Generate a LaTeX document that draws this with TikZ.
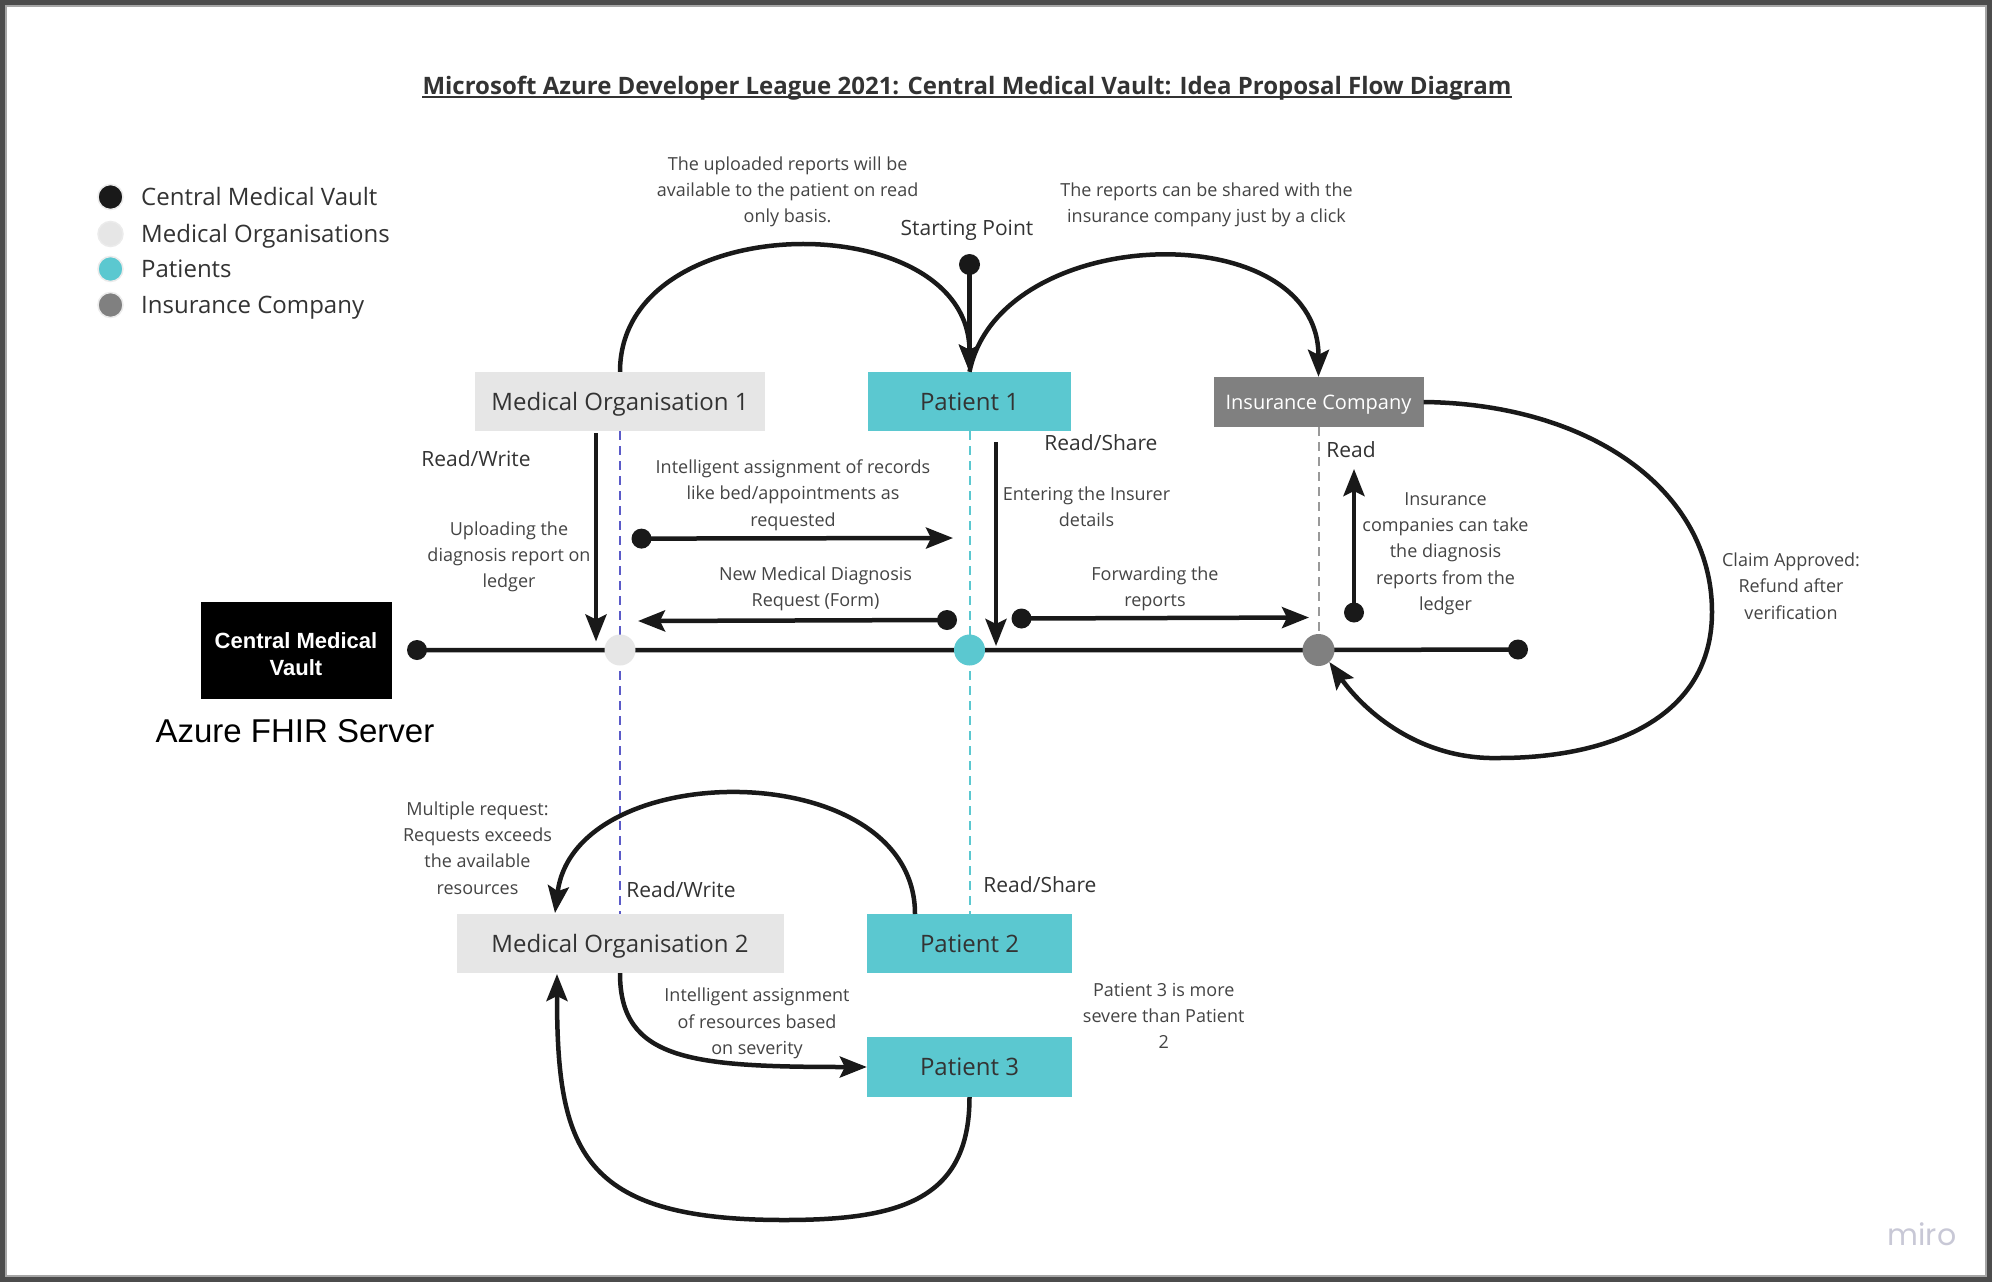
\documentclass[tikz,border=0pt]{standalone}
\usepackage{fontspec}
\setmainfont{Open Sans}
\newfontfamily\arialf{Liberation Sans}
\newfontfamily\mirof{Poppins}
\usetikzlibrary{arrows.meta,calc}
\definecolor{teal1}{HTML}{5BC8D0}
\definecolor{mogray}{HTML}{E6E6E6}
\definecolor{icgray}{HTML}{808080}
\definecolor{txt}{HTML}{333333}
\definecolor{anncol}{HTML}{444444}
\definecolor{dashblue}{HTML}{5B5BC8}
\definecolor{mirocol}{HTML}{C8C8D6}
\tikzset{
  boxn/.style={minimum height=59, inner sep=0, text=txt, text height=17, text depth=0, font=\fontsize{24}{28}\selectfont},
  lbl/.style={inner sep=0, text=txt, font=\fontsize{21}{26}\selectfont},
  ann/.style={inner sep=0, text=anncol, align=center, font=\fontsize{18}{26.3}\selectfont},
  legt/.style={inner sep=0, anchor=west, text=txt, text height=17, text depth=0, font=\fontsize{24}{28}\selectfont},
  legdot/.style={circle, minimum size=25, inner sep=0, draw=black!8, line width=1.5},
  enddot/.style={circle, fill=black!90, minimum size=20, inner sep=0},
  junc/.style={circle, minimum size=31, inner sep=0},
  arr/.style={line width=4.5, draw=black!90, -{Stealth[length=27, width=21, inset=5]}},
  curv/.style={line width=4.5, draw=black!90, -{Stealth[length=27, width=21, inset=5]}},
  dline/.style={line width=2, dash pattern=on 9 off 6},
}
\begin{document}
\begin{tikzpicture}[x=1pt,y=-1pt]
\useasboundingbox (0,0) rectangle (1992,1282);
\fill[white] (0,0) rectangle (1992,1282);
% frame
\draw[line width=5, color=black!70] (2.5,2.5) rectangle (1989.5,1279.5);
\draw[line width=2, color=black!35] (6,6) rectangle (1986,1276);

% title
\node[inner sep=0, anchor=base, text=txt, font=\fontsize{24}{28}\selectfont\bfseries] (title) at (967,94) {Microsoft Azure Developer League 2021: Central Medical Vault: Idea Proposal Flow Diagram};
\draw[line width=2, color=txt] ([yshift=-3]title.base west) -- ([yshift=-3]title.base east);

% legend
\node[legdot, fill=black!90] (lg1) at (110.5,197) {};
\node[legdot, fill=mogray] (lg2) at (110.5,234) {};
\node[legdot, fill=teal1] (lg3) at (110.5,269) {};
\node[legdot, fill=icgray] (lg4) at (110.5,305) {};
\node[legt] (lt1) at (141,197) {Central Medical Vault};
\node[legt] (lt2) at (141,234) {Medical Organisations};
\node[legt] (lt3) at (141,269) {Patients};
\node[legt] (lt4) at (141,305) {Insurance Company};

% boxes
\node[boxn, fill=mogray, minimum width=290] (mo1) at (620,401.5) {Medical Organisation 1};
\node[boxn, fill=teal1, minimum width=203] (p1) at (969.5,401.5) {Patient 1};
\node[boxn, fill=icgray, minimum width=210, minimum height=50, text=white, text height=14.3, font=\fontsize{20}{24}\selectfont] (ic) at (1318.5,402) {Insurance Company};
\node[boxn, fill=mogray, minimum width=327] (mo2) at (620,943.5) {Medical Organisation 2};
\node[boxn, fill=teal1, minimum width=205] (p2) at (969.5,943.5) {Patient 2};
\node[boxn, fill=teal1, minimum width=205, minimum height=60] (p3) at (969.5,1067) {Patient 3};
\node[fill=black, minimum width=191, minimum height=97, inner sep=0] (cmv) at (296,650.5) {};
\node[inner sep=0, text=white, align=center, font=\arialf\bfseries\fontsize{22}{27}\selectfont] (cmvt) at (296,654.5) {Central Medical\\Vault};
\node[inner sep=0, text=black, font=\arialf\fontsize{33}{38}\selectfont] (fhir) at (295,731) {Azure FHIR Server};

% ledger nodes
\node[enddot] (lend) at (417,650) {};
\node[enddot] (rend) at (1518,649.5) {};
\coordinate (j1c) at (620,650);
\coordinate (j2c) at (969.5,650);
\coordinate (j3c) at (1318.5,650);

% dashed verticals
\draw[dline, color=dashblue] (mo1.south) -- (mo2.north);
\draw[dline, color=teal1] (p1.south) -- (p2.north);
\draw[dline, color=black!40] (ic.south) -- (j3c);

% ledger line
\draw[line width=4.5, color=black!90] (lend.center) -- (j1c) -- (j2c) -- (j3c) -- (rend.center);

% junction circles
\node[junc, fill=mogray] (j1) at (j1c) {};
\node[junc, fill=teal1] (j2) at (j2c) {};
\node[junc, fill=icgray, minimum size=32] (j3) at (j3c) {};

% starting point
\node[enddot, minimum size=21] (dstart) at (969.5,264.5) {};
\node[lbl] (lstart) at (967,230) {Starting Point};
\draw[arr] (dstart.center) -- (p1.north);

% top curves
\draw[curv] (mo1.north) .. controls (620,205) and (969.5,205) .. (p1.north);
\draw[curv] (p1.north) .. controls (1000,222) and (1318.5,214) .. (ic.north);
\draw[curv] (ic.east) .. controls (1590,404) and (1712,490) .. (1712,612)
   .. controls (1712,718) and (1610,758) .. (1499,758)
   .. controls (1420,760) and (1365,712) .. (j3.-48);

% vertical arrows
\coordinate (up1s) at (596,433);
\coordinate (up1e) at (596,641.5);
\draw[arr] (up1s) -- (up1e);
\coordinate (rs1s) at (996,442);
\coordinate (rs1e) at (996,646);
\draw[arr] (rs1s) -- (rs1e);
\node[enddot] (dread) at (1354,612.5) {};
\coordinate (treadc) at (1354,469);
\draw[arr] (dread.center) -- (treadc);

% horizontal arrows
\node[enddot] (dint) at (641.5,538.6) {};
\coordinate (tint) at (953,538);
\draw[arr] (dint.center) -- (tint);
\node[enddot] (dnew) at (947,620) {};
\coordinate (tnew) at (638,621);
\draw[arr] (dnew.center) -- (tnew);
\node[enddot] (dfwd) at (1021.5,618.5) {};
\coordinate (tfwd) at (1309,617.5);
\draw[arr] (dfwd.center) -- (tfwd);

% lower curves
\coordinate (p2top) at (915,914);
\coordinate (mo2top) at (555,913);
\draw[curv] (p2top) .. controls (915,755) and (575,755) .. (mo2top);
\draw[curv] (mo2.south) .. controls (620,1060) and (690,1067) .. (p3.west);
\coordinate (mo2bot) at (557,974);
\draw[curv] (p3.south) .. controls (969.5,1200) and (900,1220) .. (784,1220)
   .. controls (580,1220) and (557,1150) .. (mo2bot);

% labels
\node[lbl] (lrw1) at (476,459) {Read/Write};
\node[lbl] (lrs1) at (1101,443) {Read/Share};
\node[lbl] (lread) at (1351,450) {Read};
\node[lbl] (lrw2) at (681,890) {Read/Write};
\node[lbl] (lrs2) at (1040,885) {Read/Share};

% annotations
\node[ann] (aupl) at (787.6,192) {The uploaded reports will be\\available to the patient on read\\only basis.};
\node[ann] (ashare) at (1206.5,204.5) {The reports can be shared with the\\insurance company just by a click};
\node[ann] (aint) at (793,495) {Intelligent assignment of records\\like bed/appointments as\\requested};
\node[ann] (aupload) at (509,557) {Uploading the\\diagnosis report on\\ledger};
\node[ann] (anew) at (815.6,588.5) {New Medical Diagnosis\\Request (Form)};
\node[ann] (aenter) at (1086.5,506.5) {Entering the Insurer\\details};
\node[ann] (afwd) at (1155,589) {Forwarding the\\reports};
\node[ann] (ains) at (1445.5,553.5) {Insurance\\companies can take\\the diagnosis\\reports from the\\ledger};
\node[ann] (aclaim) at (1791,586) {Claim Approved:\\Refund after\\verification};
\node[ann] (amulti) at (477.5,848) {Multiple request:\\Requests exceeds\\the available\\resources};
\node[ann] (asev) at (757,1023.5) {Intelligent assignment\\of resources based\\on severity};
\node[ann] (ap3) at (1163.7,1016) {Patient 3 is more\\severe than Patient\\2};

% miro
\node[inner sep=0, text=mirocol, font=\mirof\fontsize{30}{34}\selectfont] (miro) at (1922,1234) {miro};
\end{tikzpicture}
\end{document}
